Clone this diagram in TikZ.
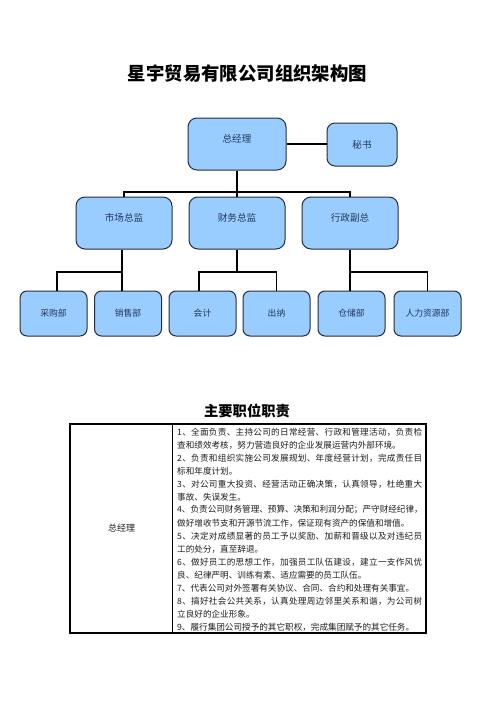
\documentclass[tikz,border=0pt]{standalone}
\usepackage{fontspec}
\newfontfamily\cjk{Noto Sans CJK SC}
\definecolor{boxfill}{RGB}{153,204,255}
\definecolor{boxline}{RGB}{40,45,55}
\definecolor{boxtext}{RGB}{35,55,95}
\definecolor{tbltext}{RGB}{30,30,30}
\newcommand\boxup[1]{\raisebox{1.5pt}[0pt][0pt]{#1}}
\makeatletter
\def\jl#1{\makebox[245pt][s]{\jl@first#1\relax}}
\def\jl@first#1{#1\jl@x}
\def\jl@x#1{\ifx#1\relax\else\hskip 0pt plus 1fil #1\expandafter\jl@x\fi}
\makeatother
\begin{document}
\begin{tikzpicture}[x=1pt,y=-1pt,
  box/.style={draw=boxline, fill=boxfill, line width=1pt, text=boxtext, inner sep=0pt,
    font=\cjk\fontsize{9.6}{11}\selectfont},
  topbox/.style={box, rounded corners=9pt, minimum width=98pt, minimum height=52pt},
  secbox/.style={box, rounded corners=8pt, minimum width=70pt, minimum height=43pt},
  midbox/.style={box, rounded corners=9pt, minimum width=96pt, minimum height=52pt},
  lowbox/.style={box, rounded corners=7pt, minimum width=67pt, minimum height=45pt,
    font=\cjk\fontsize{8.8}{10}\selectfont},
  conn/.style={line width=1.8pt, black},
  tl/.style={anchor=west, inner sep=0pt, text=tbltext, font=\cjk\fontsize{8.6}{10}\selectfont},
  ttl/.style={inner sep=0pt, text=black}]
\fill[white] (0,0) rectangle (496,702);
\useasboundingbox (0,0) rectangle (496,702);

% titles
\node[ttl, font=\cjk\bfseries\fontsize{18.4}{20}\selectfont] (title) at (247.5,73.5) {星宇贸易有限公司组织架构图};
\node[ttl, font=\cjk\bfseries\fontsize{14.3}{16}\selectfont] (title2) at (247,411) {主要职位职责};

% org chart boxes
\node[topbox] (zjl) at (237,144) {\boxup{总经理}};
\node[secbox] (ms) at (362,144.5) {秘书};
\node[midbox] (sc) at (124,223) {\boxup{市场总监}};
\node[midbox] (cw) at (237,223) {\boxup{财务总监}};
\node[midbox] (xz) at (350,223) {\boxup{行政副总}};
\node[lowbox] (cg) at (53.5,313.5) {采购部};
\node[lowbox] (xs) at (128,313.5) {销售部};
\node[lowbox] (kj) at (202.5,313.5) {会计};
\node[lowbox] (cn) at (276.5,313.5) {出纳};
\node[lowbox] (cc) at (351.5,313.5) {仓储部};
\node[lowbox] (rl) at (427.5,313.5) {人力资源部};

% connectors
\coordinate (b0) at (237,192);
\coordinate (b1) at (0,272);
\draw[conn] (zjl.east) -- (zjl.east -| ms.west);
\draw[conn] (zjl.south) -- (cw.north);
\draw[conn] (sc.north) -- (sc.north |- b0) -- (xz.north |- b0) -- (xz.north);
\draw[conn] ([xshift=-2pt]sc.south) -- ([xshift=-6pt]xs.north);
\draw[conn] ([xshift=3.5pt]cg.north) -- ([xshift=3.5pt]cg.north |- b1) -- ([xshift=-2pt]sc.south |- b1);
\draw[conn] (cw.south) -- (cw.south |- b1);
\draw[conn] ([xshift=-3.5pt]kj.north) -- ([xshift=-3.5pt]kj.north |- b1) -- (cn.north |- b1) -- (cn.north);
\draw[conn] (xz.south) -- (xz.south |- b1) -- (rl.north |- b1) -- (rl.north);
\draw[conn] ([xshift=-1.5pt]cc.north) -- ([xshift=-1.5pt]cc.north |- b1);

% table
\node[draw=black, line width=1.1pt, minimum width=356pt, minimum height=209pt, inner sep=0pt] (tbl) at (248,528.5) {};
\draw[line width=1.1pt] ([xshift=103pt]tbl.north west) -- ([xshift=103pt]tbl.south west);
\node[inner sep=0pt, text=tbltext, font=\cjk\fontsize{9}{10}\selectfont] (lbl) at (121.5,528) {总经理};

\node[tl] (l1) at (177,432) {\jl{1、全面负责、主持公司的日常经营、行政和管理活动，负责检}};
\node[tl] (l2) at (177,445) {查和绩效考核，努力营造良好的企业发展运营内外部环境。};
\node[tl] (l3) at (177,458) {\jl{2、负责和组织实施公司发展规划、年度经营计划，完成责任目}};
\node[tl] (l4) at (177,471) {标和年度计划。};
\node[tl] (l5) at (177,484) {\jl{3、对公司重大投资、经营活动正确决策，认真领导，杜绝重大}};
\node[tl] (l6) at (177,497) {事故、失误发生。};
\node[tl] (l7) at (177,510) {\jl{4、负责公司财务管理、预算、决策和利润分配；严守财经纪律，}};
\node[tl] (l8) at (177,523) {做好增收节支和开源节流工作，保证现有资产的保值和增值。};
\node[tl] (l9) at (177,536) {\jl{5、决定对成绩显著的员工予以奖励、加薪和晋级以及对违纪员}};
\node[tl] (l10) at (177,549) {工的处分，直至辞退。};
\node[tl] (l11) at (177,562) {\jl{6、做好员工的思想工作，加强员工队伍建设，建立一支作风优}};
\node[tl] (l12) at (177,575) {良、纪律严明、训练有素、适应需要的员工队伍。};
\node[tl] (l13) at (177,588) {7、代表公司对外签署有关协议、合同、合约和处理有关事宜。};
\node[tl] (l14) at (177,601) {\jl{8、搞好社会公共关系，认真处理周边邻里关系和谐，为公司树}};
\node[tl] (l15) at (177,614) {立良好的企业形象。};
\node[tl] (l16) at (177,627) {9、履行集团公司授予的其它职权，完成集团赋予的其它任务。};
\end{tikzpicture}
\end{document}
